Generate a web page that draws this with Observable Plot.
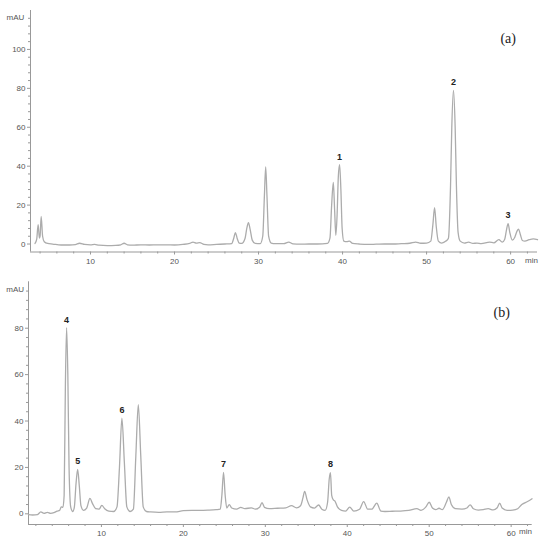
<!DOCTYPE html>
<html><head><meta charset="utf-8">
<script src="https://cdn.jsdelivr.net/npm/d3@7"></script>
<script src="https://cdn.jsdelivr.net/npm/@observablehq/plot@0.6"></script>
<style>
body{margin:0;background:#fff;}
#wrap{position:relative;width:549px;height:550px;overflow:hidden;background:#fff;}
#pa{position:absolute;left:0;top:0;}
#pb{position:absolute;left:0;top:275px;}
</style></head><body><div id="wrap"><div id="pa"></div><div id="pb"></div></div>
<script>
// ---- Panel (a) chromatogram: retention time (min) and absorbance (mAU)
const timeA = [3.4,3.6,3.77,3.92,4.0,4.13,4.3,4.5,4.9,5.5,6.5,7.5,8.2,8.7,9.3,10,10.5,11,12,13,13.6,14.0,14.4,15,16,17,18,19,20,21,21.8,22.2,22.6,23.0,23.5,24,25,26,26.8,27.05,27.25,27.45,27.7,28.0,28.4,28.6,28.8,29.0,29.25,29.6,30.2,30.5,30.7,30.85,31.0,31.2,31.5,32,33,33.6,34.1,35,36,37,38.2,38.5,38.7,38.9,39.05,39.2,39.35,39.5,39.65,39.8,39.95,40.15,40.5,40.8,41.2,42,43,44,45,46,47,48,48.7,49.3,50.0,50.5,50.75,50.95,51.15,51.4,51.8,52.3,52.6,52.85,53.0,53.2,53.4,53.55,53.75,54.0,54.5,55,55.5,56,56.5,57.5,58,58.6,59.0,59.3,59.5,59.7,59.9,60.2,60.5,60.75,60.95,61.15,61.4,61.7,62.2,62.7,63.2];
const valueA = [0.3,2.5,10,3,4,14.2,4,1.2,0.3,0,-0.5,-0.5,-0.3,0.4,-0.2,-0.4,-0.2,-0.6,-0.8,-0.7,-0.4,0.4,-0.4,-0.6,-0.4,-0.5,-0.4,-0.4,-0.5,-0.2,0.3,1.0,0.5,0.7,-0.2,-0.4,-0.2,0,0.2,3,5.9,3,0.5,0.3,3,8,11,7.5,2,0.3,0.2,4,25,39.6,25,4,0.5,0.2,0.2,1.0,0.1,-0.1,0,0,0.3,3,20,31.7,18,4.5,15,35,40.8,28,8,1.5,1.2,1.5,0.3,0,-0.2,-0.1,0,0,0.2,0.4,1.0,0.4,0.5,1.5,10,18.7,9,1.5,0.5,1.5,3,30,60,79,60,30,6,1.5,0.5,1,0.3,0.5,0.2,1.0,0.6,2.3,1,2.5,7,10.5,6,2.0,3.5,6.5,7.7,5,1.8,1.5,2.2,2.6,2.2];
const peakNamesA = ["1","2","3"];
const peakTimesA = [39.65,53.2,59.7];
const peakHeightsA = [40.8,79,10.5];

// ---- Panel (b) chromatogram
const timeB = [1.1,1.6,2.2,2.6,3.0,3.4,3.8,4.2,4.6,4.9,5.1,5.3,5.45,5.6,5.75,5.9,6.05,6.25,6.5,6.7,6.9,7.1,7.3,7.5,7.8,8.2,8.6,8.9,9.3,9.7,10.05,10.4,10.9,11.5,11.9,12.2,12.5,12.8,13.1,13.5,13.9,14.2,14.5,14.8,15.1,15.5,16,17,18,19,20,21,22,23,24,24.5,24.7,24.9,25.1,25.3,25.6,25.9,26.5,27.0,27.5,28.3,28.8,29.3,29.6,29.9,30.5,31.5,32.5,33.2,33.8,34.3,34.6,34.8,35.1,35.5,36.0,36.5,36.9,37.3,37.6,37.8,37.95,38.1,38.3,38.5,38.8,39.3,39.8,40.3,40.8,41.5,42.0,42.5,43.0,43.6,44.1,44.6,45.5,46.5,47.5,48.5,49.0,49.6,50.0,50.4,50.8,51.2,51.6,52.1,52.4,52.7,53.2,54.0,54.6,55.0,55.4,56.0,56.6,57.2,57.8,58.3,58.6,58.9,59.5,60.2,60.8,61.3,62.0,62.55];
const valueB = [-0.3,-0.5,-0.3,0.8,0.2,0.6,0.2,0.5,1.2,1.5,3,2.8,8,55,80.2,60,20,3,1,3,13,19.1,12,3.5,1.5,2.5,6.7,4.5,2.2,2.0,3.6,2.2,1.2,1,3,20,41.2,22,3,1,2,25,47.1,25,3,1,0.8,0.6,0.8,0.8,1.4,1.5,1.5,1.6,1.8,2.0,8,17.9,8,2.5,4,2.5,2,2.8,2.2,2.6,2,2.8,4.8,2.8,2.2,2.4,2.6,3.5,2.6,3.5,7,9.7,6,3,2.5,3.8,2,1.5,5,15,17.8,8,6,5.5,3,1.5,1.2,2.9,1.2,2,5.3,2,2,4.6,1.2,1,1.1,1.2,1.5,2.2,1.5,3,5,2.5,1.8,2.4,1.8,5,7.3,4,2.2,2,2.5,3.9,2.2,1.6,1.8,2.2,1.7,2.6,4.6,2.5,1.5,1.6,2.2,4,5.3,6.5];
const peakNamesB = ["4","5","6","7","8"];
const peakTimesB = [5.75,7.1,12.5,24.9,37.95];
const peakHeightsB = [80.2,19.1,41.2,17.9,17.8];

// ---- Axis ticks
const xMajorTicks = [10,20,30,40,50,60];
const xMinorTicksA = [4,6,8,12,14,16,18,22,24,26,28,32,34,36,38,42,44,46,48,52,54,56,58,62];
const xMinorTicksB = [2,4,6,8,12,14,16,18,22,24,26,28,32,34,36,38,42,44,46,48,52,54,56,58,62];
const yMajorTicksA = [0,20,40,60,80,100];
const yMinorTicksA = [4,8,12,16,24,28,32,36,44,48,52,56,64,68,72,76,84,88,92,96,104,108,112,116];
const yMajorTicksB = [0,20,40,60,80];
const yMinorTicksB = [4,8,12,16,24,28,32,36,44,48,52,56,64,68,72,76,84,88,92,96];

const FONT = "'Liberation Sans', Arial, sans-serif";

function panel(cfg) {
  const data = cfg.times.map((t, i) => ({t, v: cfg.values[i]}));
  const peaks = cfg.names.map((n, i) => ({n, t: cfg.pt[i], v: cfg.ph[i]}));
  return Plot.plot({
    width: 549, height: 275,
    marginLeft: cfg.ml, marginRight: cfg.mr, marginTop: cfg.mt, marginBottom: cfg.mb,
    style: {fontFamily: FONT, fontSize: "8px", background: "#fff", color: "#555", overflow: "visible"},
    x: {domain: cfg.xd, label: null},
    y: {domain: cfg.yd, label: null},
    marks: [
      Plot.axisX({ticks: cfg.xMinor, tickSize: 2, tickFormat: () => "", label: null, stroke: "#999"}),
      Plot.axisX({ticks: xMajorTicks, tickSize: 3, tickPadding: 3, label: null, stroke: "#999", fill: "#555"}),
      Plot.axisY({ticks: cfg.yMinor, tickSize: 2, tickFormat: () => "", label: null, stroke: "#999"}),
      Plot.axisY({ticks: cfg.yMajor, tickSize: 3, tickPadding: 2, label: null, stroke: "#999", fill: "#555"}),
      Plot.ruleX([cfg.xd[0]], {stroke: "#999", strokeWidth: 1}),
      Plot.ruleY([cfg.yd[0]], {stroke: "#999", strokeWidth: 1}),
      Plot.line(data, {x: "t", y: "v", curve: "monotone-x", stroke: "#acacac", strokeWidth: 1.3}),
      Plot.text(peaks, {x: "t", y: "v", text: "n", dy: -8, fontWeight: "bold", fontSize: 9, fill: "#222"}),
      Plot.text(["mAU"], {frameAnchor: "top-left", dx: cfg.mauDx, dy: cfg.mauDy, textAnchor: "middle", fill: "#555"}),
      Plot.text(["min"], {frameAnchor: "bottom-right", dx: cfg.minDx, dy: cfg.minDy, textAnchor: "middle", fill: "#555"}),
      Plot.text([cfg.tag], {frameAnchor: "top-right", dx: cfg.tagDx, dy: cfg.tagDy, textAnchor: "end", fontFamily: "'Liberation Serif', 'Times New Roman', serif", fontSize: 14, fill: "#222"})
    ]
  });
}

document.getElementById("pa").appendChild(panel({
  times: timeA, values: valueA, names: peakNamesA, pt: peakTimesA, ph: peakHeightsA,
  ml: 30, mr: 12, mt: 10, mb: 23.5, xd: [2.86, 63.2], yd: [-4.1, 120],
  xMinor: xMinorTicksA, yMajor: yMajorTicksA, yMinor: yMinorTicksA,
  mauDx: -15, mauDy: 4, minDx: -6, minDy: 10.5, tag: "(a)", tagDx: -21.5, tagDy: 23
}));
document.getElementById("pb").appendChild(panel({
  times: timeB, values: valueB, names: peakNamesB, pt: peakTimesB, ph: peakHeightsB,
  ml: 28, mr: 17.3, mt: 6.3, mb: 26, xd: [1.1, 62.57], yd: [-4.6, 100],
  xMinor: xMinorTicksB, yMajor: yMajorTicksB, yMinor: yMinorTicksB,
  mauDx: -13.3, mauDy: 4.4, minDx: -6.7, minDy: 9, tag: "(b)", tagDx: -22.4, tagDy: 25.4
}));
</script></body></html>
